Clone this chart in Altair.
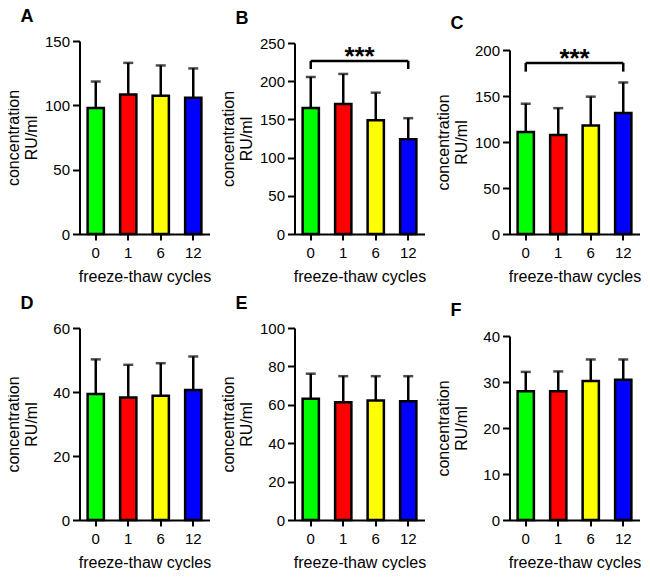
import altair as alt
import pandas as pd

FONT = "Liberation Sans"

cycles = ["0", "1", "6", "12"]
bar_colors = ["#00ff00", "#ff0000", "#ffff00", "#0000ff"]
y_title = ["concentration", "RU/ml"]
x_title = "freeze-thaw cycles"

letters = ["A", "B", "C", "D", "E", "F"]

mean_A = [98.0, 108.5, 107.5, 105.8]
sd_top_A = [118.5, 133.0, 131.0, 128.7]
mean_B = [165.0, 170.0, 149.0, 124.0]
sd_top_B = [205.5, 209.5, 185.0, 151.6]
mean_C = [111.0, 107.5, 118.0, 131.5]
sd_top_C = [141.6, 136.8, 149.3, 164.7]
mean_D = [39.4, 38.3, 38.8, 40.6]
sd_top_D = [50.2, 48.5, 49.0, 51.1]
mean_E = [63.2, 61.3, 62.3, 61.8]
sd_top_E = [76.2, 74.9, 74.9, 74.9]
mean_F = [28.0, 28.0, 30.2, 30.5]
sd_top_F = [32.2, 32.3, 34.9, 34.9]

y_max = [150, 250, 200, 60, 100, 40]
y_ticks = [
    [0, 50, 100, 150],
    [0, 50, 100, 150, 200, 250],
    [0, 50, 100, 150, 200],
    [0, 20, 40, 60],
    [0, 20, 40, 60, 80, 100],
    [0, 10, 20, 30, 40],
]
# significance brackets
sig_panels = ["B", "C"]
sig_level = [226.6, 186.0]
sig_end = [216.0, 176.5]
sig_text = ["***", "***"]

means = [mean_A, mean_B, mean_C, mean_D, mean_E, mean_F]
tops = [sd_top_A, sd_top_B, sd_top_C, sd_top_D, sd_top_E, sd_top_F]

# panel view heights and the pixel top of each value axis inside its view
view_h = [193, 193, 193, 192, 192, 192]
axis_top = [0, 2, 9, 0, 0, 8]


def panel(i):
    letter = letters[i]
    df = pd.DataFrame({"cycle": cycles, "mean": means[i], "top": tops[i], "color": bar_colors})
    xscale = alt.Scale(domain=cycles, paddingInner=0.5, paddingOuter=0.25)
    yscale = alt.Scale(domain=[0, y_max[i]], nice=False, zero=True, range=[view_h[i], axis_top[i]])
    xaxis = alt.Axis(title=x_title, labelAngle=0)
    yaxis = alt.Axis(title=y_title, values=y_ticks[i])

    def X(field="cycle"):
        return alt.X(f"{field}:N", scale=xscale, axis=xaxis)

    def Y(field):
        return alt.Y(f"{field}:Q", scale=yscale, axis=yaxis)

    base = alt.Chart(df)
    bars = base.mark_bar(stroke="black", strokeWidth=2.5).encode(
        x=X(), y=Y("mean"), color=alt.Color("color:N", scale=None)
    )
    err = base.mark_rule(color="black", strokeWidth=2.5).encode(
        x=X(), y=Y("mean"), y2=alt.Y2("top:Q")
    )
    cap = base.mark_tick(color="black", size=10, thickness=2.5).encode(x=X(), y=Y("top"))
    layers = [bars, err, cap]
    if letter in sig_panels:
        k = sig_panels.index(letter)
        hdf = pd.DataFrame({"cycle": [cycles[0]], "cycle_end": [cycles[-1]], "lvl": [sig_level[k]]})
        vdf = pd.DataFrame({"cycle": [cycles[0], cycles[-1]], "lvl": [sig_level[k]] * 2, "end": [sig_end[k]] * 2})
        tdf = pd.DataFrame({"cycle": [cycles[1]], "lvl": [sig_level[k]], "label": [sig_text[k]]})
        hline = alt.Chart(hdf).mark_rule(color="black", strokeWidth=2.5).encode(
            x=X(), x2=alt.X2("cycle_end:N"), y=Y("lvl")
        )
        vline = alt.Chart(vdf).mark_rule(color="black", strokeWidth=2.5).encode(
            x=X(), y=Y("lvl"), y2=alt.Y2("end:Q")
        )
        stars = alt.Chart(tdf).mark_text(
            font=FONT, fontSize=26, fontWeight="bold", color="black",
            baseline="alphabetic", align="center", dx=16.3, dy=4
        ).encode(x=X(), y=Y("lvl"), text="label:N")
        layers += [hline, vline, stars]
    return alt.layer(*layers).properties(
        width=130,
        height=view_h[i],
        title=alt.TitleParams(
            text=letter, anchor="start", frame="bounds", dx=15,
            offset=-6, baseline="alphabetic",
        ),
    )


chart = alt.concat(
    *[panel(i) for i in range(6)], columns=3, spacing={"row": 11, "column": 9}
).properties(
    padding={"left": -2.5, "top": 0, "right": 0, "bottom": 0}
).configure_view(stroke=None).configure_axis(
    domainColor="black", domainWidth=2, tickColor="black", tickWidth=2,
    labelColor="black", titleColor="black", labelFont=FONT, titleFont=FONT,
    labelFontSize=15, titleFontSize=16, titleFontWeight="normal", grid=False,
).configure_axisY(
    tickSize=7, labelPadding=3, minExtent=34, maxExtent=34, titlePadding=6,
).configure_axisX(
    tickSize=6, labelPadding=5, titlePadding=8,
).configure_title(
    font=FONT, fontSize=18, fontWeight="bold", color="black",
)

chart.save("out.html", embed_options={"renderer": "svg", "actions": False})
